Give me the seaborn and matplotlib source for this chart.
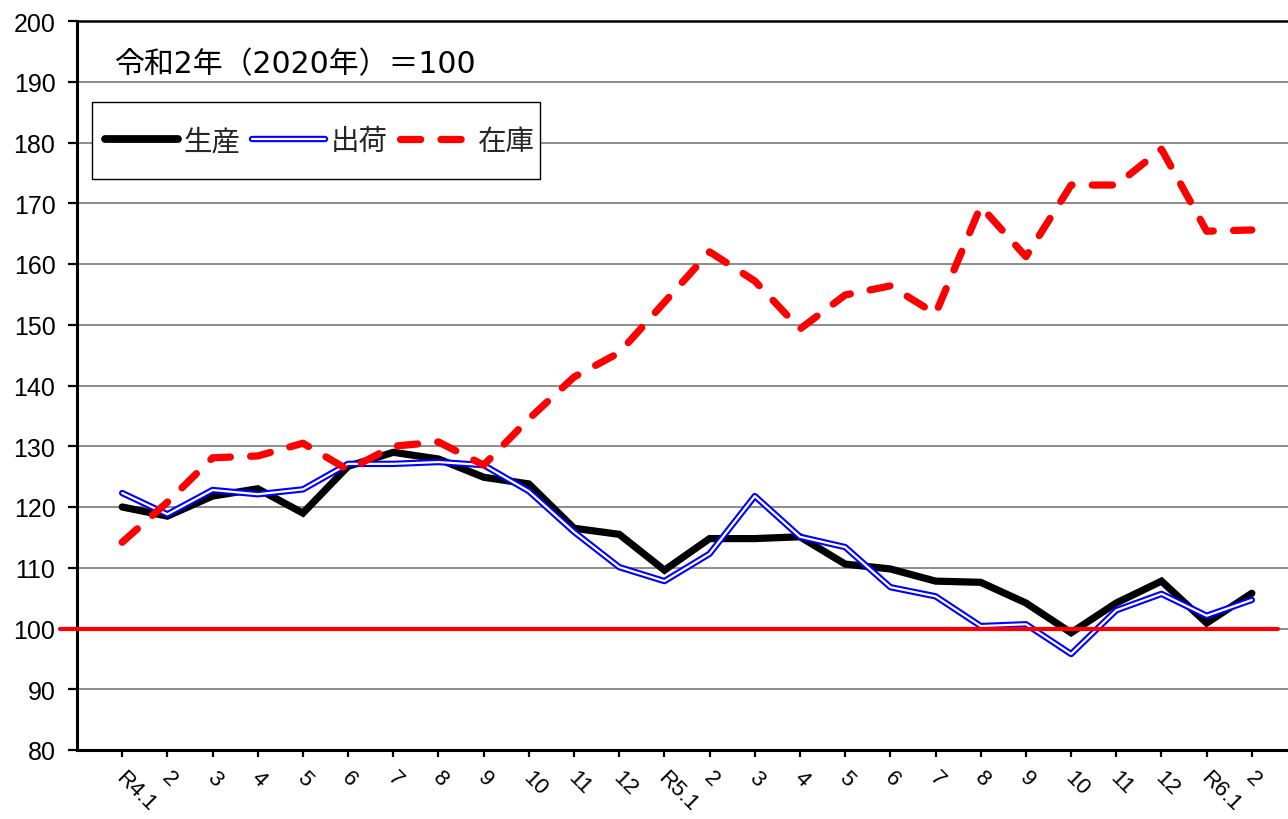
import numpy as np
import pandas as pd
import matplotlib
matplotlib.use("Agg")
import matplotlib.pyplot as plt
import matplotlib.transforms as mtransforms
from matplotlib.patches import Rectangle
from matplotlib.legend_handler import HandlerTuple
import seaborn as sns

# 月ラベル（R4.1 ～ R6.2）
labels = ["R4.1", "2", "3", "4", "5", "6", "7", "8", "9", "10", "11", "12",
          "R5.1", "2", "3", "4", "5", "6", "7", "8", "9", "10", "11", "12",
          "R6.1", "2"]

# 生産
seisan = [120.0, 118.5, 121.8, 123.0, 119.0, 126.7, 129.0, 127.9, 124.9, 123.8,
          116.5, 115.5, 109.6, 114.8, 114.8, 115.1, 110.6, 109.8, 107.8, 107.6,
          104.2, 99.3, 104.2, 107.8, 100.9, 105.8]
# 出荷
shukka = [122.3, 118.8, 122.8, 122.1, 122.9, 127.1, 127.1, 127.4, 126.9, 122.6,
          115.9, 110.1, 107.8, 112.3, 121.8, 115.1, 113.4, 106.8, 105.3, 100.4,
          100.7, 95.8, 103.0, 105.7, 102.1, 104.7]
# 在庫
zaiko = [114.2, 120.8, 128.1, 128.4, 130.5, 126.1, 130.0, 130.7, 126.9, 134.5,
         141.4, 145.4, 153.7, 162.0, 157.2, 149.3, 154.9, 156.4, 151.8, 169.5,
         161.2, 173.0, 173.0, 178.9, 165.4, 165.6]

df = pd.DataFrame({
    "idx": np.arange(len(labels)),
    "生産": seisan,
    "出荷": shukka,
    "在庫": zaiko,
})

sns.set_theme(style="white")
plt.rcParams["font.family"] = ["Noto Sans CJK JP", "DejaVu Sans"]

fig = plt.figure(figsize=(12.88, 8.2), dpi=100)
ax = fig.add_axes([77 / 1288, 69 / 820, 1211 / 1288, 729 / 820])

sns.lineplot(data=df, x="idx", y="生産", ax=ax, color="black", lw=5.2,
             solid_joinstyle="miter", zorder=3)
sns.lineplot(data=df, x="idx", y="出荷", ax=ax, color="#0000ff", lw=4.6, zorder=4)
sns.lineplot(data=df, x="idx", y="出荷", ax=ax, color="white", lw=1.6, zorder=5)
sns.lineplot(data=df, x="idx", y="在庫", ax=ax, color="#ff0000", lw=5.2,
             linestyle=(0, (2.8, 2.8)), dash_capstyle="round", zorder=6)

ax.axhline(100, xmin=-0.014, xmax=0.992, color="#ff0000", lw=3, zorder=7,
           clip_on=False)

ax.set_xlim(-1, 25.8)
ax.set_ylim(80, 200)
ax.set_yticks(np.arange(80, 201, 10))
ax.set_xticks(df["idx"])
ax.set_xticklabels(labels, rotation=-45, ha="left", va="center",
                   rotation_mode="anchor")

ax.yaxis.grid(True, color="#8c8c8c", lw=1.4)
ax.set_axisbelow(True)
ax.set_xlabel("")
ax.set_ylabel("")

for s in ["left", "bottom", "top"]:
    ax.spines[s].set_color("black")
    ax.spines[s].set_linewidth(2.2)
ax.spines["top"].set_linewidth(1.8)
ax.spines["right"].set_visible(False)

ax.tick_params(axis="both", which="both", direction="out", width=1.6,
               color="black", labelcolor="black", left=True, bottom=True)
ax.tick_params(axis="y", length=6.5, pad=9)
ax.tick_params(axis="x", length=5)

# tick_params の後でラベル位置をずらす
offset = mtransforms.ScaledTranslation(-0.03, -0.12, fig.dpi_scale_trans)
for t in ax.get_xticklabels():
    t.set_transform(t.get_transform() + offset)
    t.set_fontfamily(["Liberation Sans", "DejaVu Sans"])
    t.set_fontsize(16)
for t in ax.get_yticklabels():
    t.set_fontfamily(["Liberation Sans", "DejaVu Sans"])
    t.set_fontsize(18)

ax.text(0.031, 0.942, "令和2年（2020年）＝100", transform=ax.transAxes,
        fontsize=21.5, ha="left", va="center", color="black",
        family=["DejaVu Sans", "Noto Sans CJK JP"])

# 凡例（枠は手動で描く）
h1 = plt.Line2D([], [], color="black", lw=5.6, solid_capstyle="round")
h2a = plt.Line2D([], [], color="#0000ff", lw=4.6, solid_capstyle="round")
h2b = plt.Line2D([], [], color="white", lw=1.6, solid_capstyle="round")
h3 = plt.Line2D([], [], color="#ff0000", lw=5.2, linestyle=(0, (2.8, 2.8)),
                dash_capstyle="round")
leg = ax.legend([h1, (h2a, h2b), h3], ["生産", "出荷", "在庫"],
                handler_map={tuple: HandlerTuple(ndivide=1)},
                loc="center left", bbox_to_anchor=(28 / 1211, 609 / 729),
                borderaxespad=0, borderpad=0, ncol=3, fontsize=20.5,
                frameon=False, handlelength=2.55, handletextpad=0.2,
                columnspacing=0.42)
leg.set_zorder(10)
ax.add_patch(Rectangle((15 / 1211, 571 / 729), 448 / 1211, 77 / 729,
                       transform=ax.transAxes, facecolor="white",
                       edgecolor="black", lw=1, zorder=9))

fig.savefig("out.png", dpi=100)
